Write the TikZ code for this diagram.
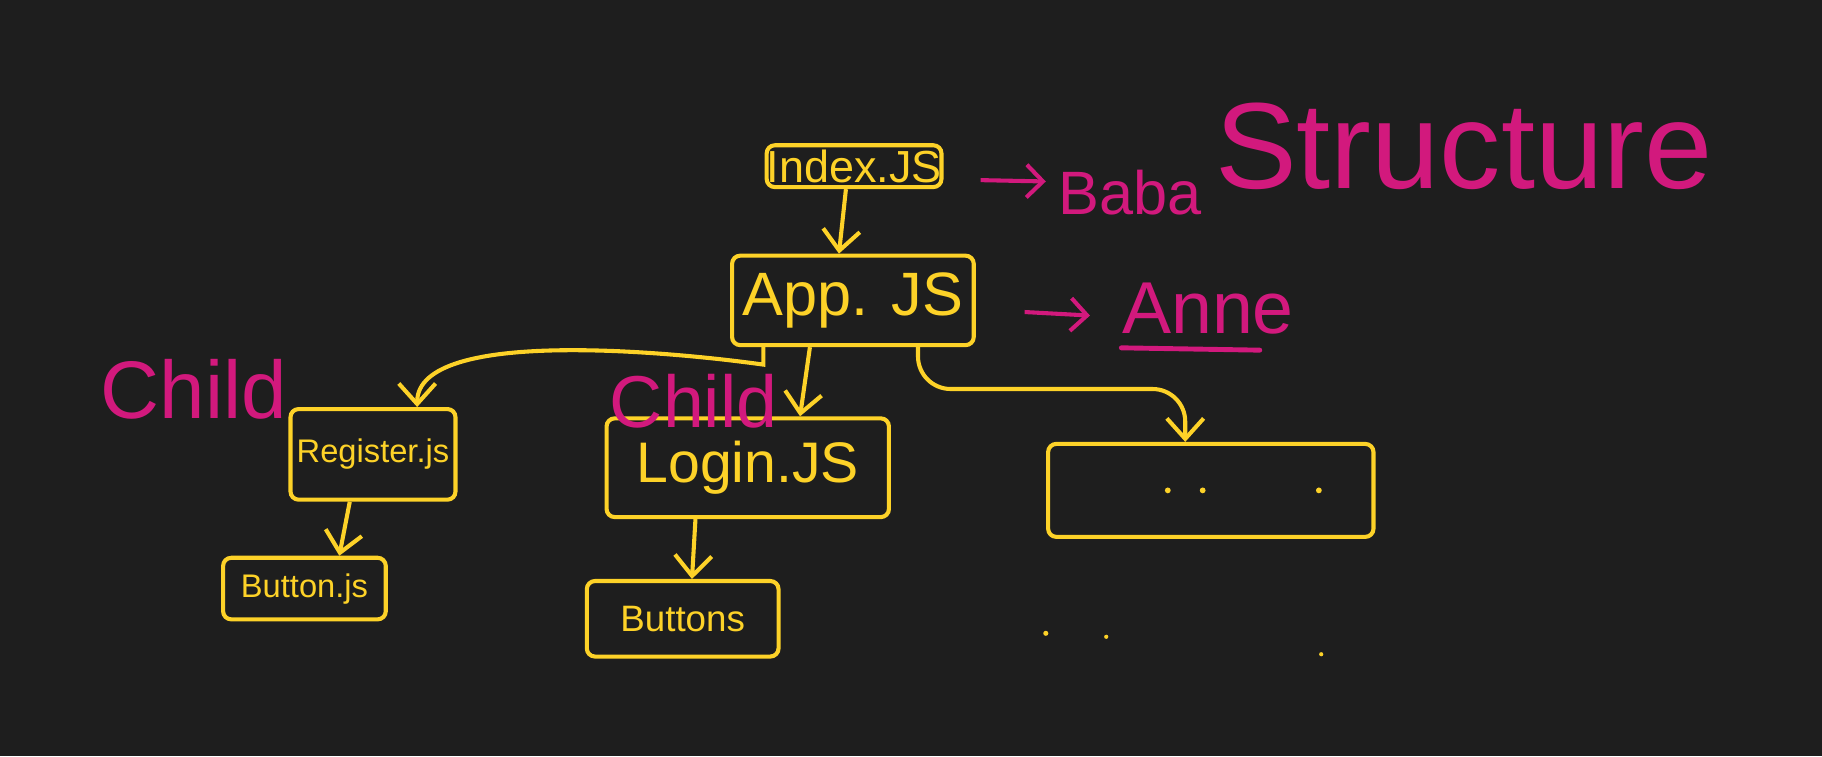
\documentclass[tikz,border=0pt]{standalone}
\usepackage{fontspec}
\setmainfont{Liberation Sans}
\usetikzlibrary{arrows.meta}

\begin{document}
\begin{tikzpicture}[
    filebox/.style={draw=FileLine, line width=1pt, rounded corners=2pt,
        text=FileLine, inner sep=0pt},
    flow/.style={->, >={Straight Barb[length=5pt,width=9pt]},
        line width=1pt, draw=FileLine},
    note/.style={text=NoteInk, inner sep=0pt},
    notearrow/.style={->, >={Straight Barb[length=4pt,width=8pt]},
        line width=1pt, draw=NoteInk}
]

\definecolor{Board}{RGB}{30,30,30}
\definecolor{FileLine}{RGB}{253,210,40}
\definecolor{NoteInk}{RGB}{210,25,125}

% ── Fundo ────────────────────────────────────────────────────
\fill[Board] (0,0) rectangle (15.68,-6.51);
\useasboundingbox (0,0) rectangle (15.68,-6.51);

% ── Arquivos (caixas amarelas) ───────────────────────────────
\node[filebox, minimum width=1.5cm, minimum height=0.36cm,
    font=\fontsize{11pt}{11pt}\selectfont] (index) at (7.35,-1.43) {Index.JS};
\node[filebox, minimum width=2.08cm, minimum height=0.77cm,
    font=\fontsize{15pt}{15pt}\selectfont] (app) at (7.34,-2.585) {App. JS};
\node[filebox, minimum width=1.42cm, minimum height=0.78cm,
    font=\fontsize{8pt}{8pt}\selectfont] (reg) at (3.21,-3.91) {Register.js};
\node[filebox, minimum width=1.40cm, minimum height=0.53cm,
    font=\fontsize{8pt}{8pt}\selectfont] (btn) at (2.62,-5.065) {Button.js};
\node[filebox, minimum width=2.43cm, minimum height=0.85cm,
    font=\fontsize{14pt}{14pt}\selectfont] (login) at (6.435,-4.025) {Login.JS};
\node[filebox, minimum width=1.65cm, minimum height=0.65cm,
    font=\fontsize{9pt}{9pt}\selectfont] (btns) at (5.875,-5.325) {Buttons};
\node[filebox, minimum width=2.8cm, minimum height=0.8cm] (rbox) at (10.42,-4.22) {};

% pontos dentro da caixa da direita e abaixo dela
\fill[FileLine] ([xshift=-0.37cm]rbox.center) circle (0.025);
\fill[FileLine] ([xshift=-0.07cm]rbox.center) circle (0.025);
\fill[FileLine] ([xshift=0.93cm]rbox.center) circle (0.025);
\fill[FileLine] (9.00,-5.45) circle (0.022);
\fill[FileLine] (9.52,-5.48) circle (0.018);
\fill[FileLine] (11.37,-5.63) circle (0.018);

% ── Ligações entre arquivos ──────────────────────────────────
\draw[flow] ([xshift=-0.07cm]index.south) -- ([xshift=-0.12cm]app.north);
\draw[flow] ([xshift=-0.77cm]app.south) -- ++(0,-0.15)
    to[out=172, in=90, looseness=0.6] ([xshift=0.38cm]reg.north);
\draw[flow] ([xshift=-0.37cm]app.south) -- ([xshift=0.45cm]login.north);
\draw[flow, rounded corners=8pt] ([xshift=0.56cm]app.south) -- ++(0,-0.36)
    -| ([xshift=-0.22cm]rbox.north);
\draw[flow] ([xshift=-0.2cm]reg.south) -- ([xshift=0.3cm]btn.north);
\draw[flow] ([xshift=-0.45cm]login.south) -- ([xshift=0.08cm]btns.north);

% ── Anotações em magenta ─────────────────────────────────────
\node[note, font=\fontsize{20pt}{20pt}\selectfont] (childA) at (1.67,-3.35) {Child};
\node[note, font=\fontsize{18pt}{18pt}\selectfont] (childB) at (5.97,-3.45) {Child};
\node[note, anchor=base west, font=\fontsize{15pt}{15pt}\selectfont]
    (baba) at (9.10,-1.85) {Baba};
\node[note, anchor=base west, font=\fontsize{18pt}{18pt}\selectfont]
    (anne) at (9.65,-2.87) {Anne};
\node[note, anchor=base west, font=\fontsize{30pt}{30pt}\selectfont]
    (title) at (10.45,-1.62) {Structure};

\draw[notearrow] ([shift={(0.32,-0.12)}]index.east) -- ([shift={(-0.10,0.10)}]baba.west);
\draw[notearrow] ([shift={(0.42,-0.10)}]app.east) -- ([shift={(-0.27,-0.06)}]anne.west);
\draw[NoteInk, line width=1.2pt, line cap=round]
    ([yshift=-0.11cm]anne.south west) -- ([shift={(-0.3,-0.13)}]anne.south east);

\end{tikzpicture}
\end{document}
